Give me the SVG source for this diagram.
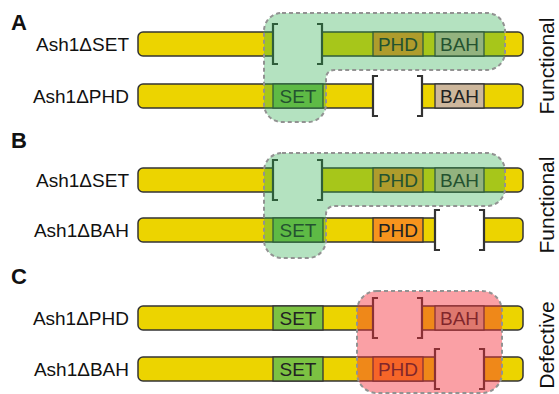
<svg xmlns="http://www.w3.org/2000/svg" width="559" height="394" viewBox="0 0 559 394">
<style>
.bar{fill:#ecd400;stroke:#333;stroke-width:1.5}
.set{fill:#7cc242;stroke:#333;stroke-width:1.3}
.phd{fill:#f7941d;stroke:#333;stroke-width:1.3}
.bah{fill:#cdb79c;stroke:#333;stroke-width:1.3}
.brk{fill:none;stroke:#333;stroke-width:2.2}
.dt{font-family:"Liberation Sans",Arial,sans-serif;font-size:19px;fill:#222;text-anchor:middle}
.lbl{font-family:"Liberation Sans",Arial,sans-serif;font-size:19px;fill:#111;text-anchor:end}
.pan{font-family:"Liberation Sans",Arial,sans-serif;font-size:22px;font-weight:bold;fill:#111}
.side{font-family:"Liberation Sans",Arial,sans-serif;font-size:21px;fill:#111;text-anchor:middle}
.ovg{fill:rgb(40,171,74);fill-opacity:0.35;stroke:#929292;stroke-width:2;stroke-dasharray:4 3}
.ovr{fill:rgb(244,44,56);fill-opacity:0.45;stroke:#929292;stroke-width:2;stroke-dasharray:4 3}
</style>
<g id="panel-labels">
<text class="pan" x="11" y="30">A</text>
<text class="pan" x="11" y="148">B</text>
<text class="pan" x="11" y="284">C</text>
</g>
<!-- Row A1: Ash1 delta SET -->
<g id="rowA1">
<text class="lbl" x="129" y="51">Ash1ΔSET</text>
<path class="bar" d="M273,32 H143 A5,5 0 0 0 138,37 V51 A5,5 0 0 0 143,56 H273 Z"/>
<path class="bar" d="M322,32 H518 A5,5 0 0 1 523,37 V51 A5,5 0 0 1 518,56 H322 Z"/>
<rect class="phd" x="373" y="32" width="50" height="24"/>
<rect class="bah" x="435" y="32" width="49" height="24"/>
<path class="brk" d="M278,24 H273 V64 H278"/>
<path class="brk" d="M317,24 H322 V64 H317"/>
<text class="dt" x="398" y="51">PHD</text>
<text class="dt" x="459.5" y="51">BAH</text>
</g>
<!-- Row A2: Ash1 delta PHD -->
<g id="rowA2">
<text class="lbl" x="129" y="103">Ash1ΔPHD</text>
<path class="bar" d="M373,84 H143 A5,5 0 0 0 138,89 V103 A5,5 0 0 0 143,108 H373 Z"/>
<path class="bar" d="M422,84 H518 A5,5 0 0 1 523,89 V103 A5,5 0 0 1 518,108 H422 Z"/>
<rect class="set" x="273" y="84" width="50" height="24"/>
<rect class="bah" x="435" y="84" width="49" height="24"/>
<path class="brk" d="M378,76 H373 V116 H378"/>
<path class="brk" d="M417,76 H422 V116 H417"/>
<text class="dt" x="298" y="103">SET</text>
<text class="dt" x="459.5" y="103">BAH</text>
</g>
<g id="overlayA">
<path class="ovg" d="M282,13 H487 A18,18 0 0 1 505,31 V52 A18,18 0 0 1 487,70 H334 A8,8 0 0 0 326,78 V104 A18,18 0 0 1 308,122 H282 A18,18 0 0 1 264,104 V31 A18,18 0 0 1 282,13 Z"/>
</g>
<!-- Row B1 -->
<g id="rowB1">
<text class="lbl" x="129" y="187">Ash1ΔSET</text>
<path class="bar" d="M273,168 H143 A5,5 0 0 0 138,173 V187 A5,5 0 0 0 143,192 H273 Z"/>
<path class="bar" d="M322,168 H518 A5,5 0 0 1 523,173 V187 A5,5 0 0 1 518,192 H322 Z"/>
<rect class="phd" x="373" y="168" width="50" height="24"/>
<rect class="bah" x="435" y="168" width="49" height="24"/>
<path class="brk" d="M278,160 H273 V200 H278"/>
<path class="brk" d="M317,160 H322 V200 H317"/>
<text class="dt" x="398" y="187">PHD</text>
<text class="dt" x="459.5" y="187">BAH</text>
</g>
<!-- Row B2 -->
<g id="rowB2">
<text class="lbl" x="129" y="237">Ash1ΔBAH</text>
<path class="bar" d="M435,218 H143 A5,5 0 0 0 138,223 V237 A5,5 0 0 0 143,242 H435 Z"/>
<path class="bar" d="M484,218 H518 A5,5 0 0 1 523,223 V237 A5,5 0 0 1 518,242 H484 Z"/>
<rect class="set" x="273" y="218" width="50" height="24"/>
<rect class="phd" x="373" y="218" width="50" height="24"/>
<path class="brk" d="M440,210 H435 V250 H440"/>
<path class="brk" d="M479,210 H484 V250 H479"/>
<text class="dt" x="298" y="237">SET</text>
<text class="dt" x="398" y="237">PHD</text>
</g>
<g id="overlayB">
<path class="ovg" d="M282,153 H487 A18,18 0 0 1 505,171 V188 A18,18 0 0 1 487,206 H334 A8,8 0 0 0 326,214 V240 A18,18 0 0 1 308,258 H282 A18,18 0 0 1 264,240 V171 A18,18 0 0 1 282,153 Z"/>
</g>
<!-- Row C1 -->
<g id="rowC1">
<text class="lbl" x="129" y="325">Ash1ΔPHD</text>
<path class="bar" d="M373,306 H143 A5,5 0 0 0 138,311 V325 A5,5 0 0 0 143,330 H373 Z"/>
<path class="bar" d="M422,306 H518 A5,5 0 0 1 523,311 V325 A5,5 0 0 1 518,330 H422 Z"/>
<rect class="set" x="273" y="306" width="50" height="24"/>
<rect class="bah" x="435" y="306" width="49" height="24"/>
<path class="brk" d="M378,298 H373 V338 H378"/>
<path class="brk" d="M417,298 H422 V338 H417"/>
<text class="dt" x="298" y="325">SET</text>
<text class="dt" x="459.5" y="325">BAH</text>
</g>
<!-- Row C2 -->
<g id="rowC2">
<text class="lbl" x="129" y="376">Ash1ΔBAH</text>
<path class="bar" d="M435,357 H143 A5,5 0 0 0 138,362 V376 A5,5 0 0 0 143,381 H435 Z"/>
<path class="bar" d="M484,357 H518 A5,5 0 0 1 523,362 V376 A5,5 0 0 1 518,381 H484 Z"/>
<rect class="set" x="273" y="357" width="50" height="24"/>
<rect class="phd" x="373" y="357" width="50" height="24"/>
<path class="brk" d="M440,349 H435 V389 H440"/>
<path class="brk" d="M479,349 H484 V389 H479"/>
<text class="dt" x="298" y="376">SET</text>
<text class="dt" x="398" y="376">PHD</text>
</g>
<g id="overlayC">
<rect class="ovr" x="357" y="291" width="145" height="102" rx="20" ry="20"/>
</g>
<g id="side-labels">
<text class="side" x="554" y="66" transform="rotate(-90 554 66)">Functional</text>
<text class="side" x="554" y="205" transform="rotate(-90 554 205)">Functional</text>
<text class="side" x="554" y="345" transform="rotate(-90 554 345)">Defective</text>
</g>
<g id="connectors"/>
</svg>
